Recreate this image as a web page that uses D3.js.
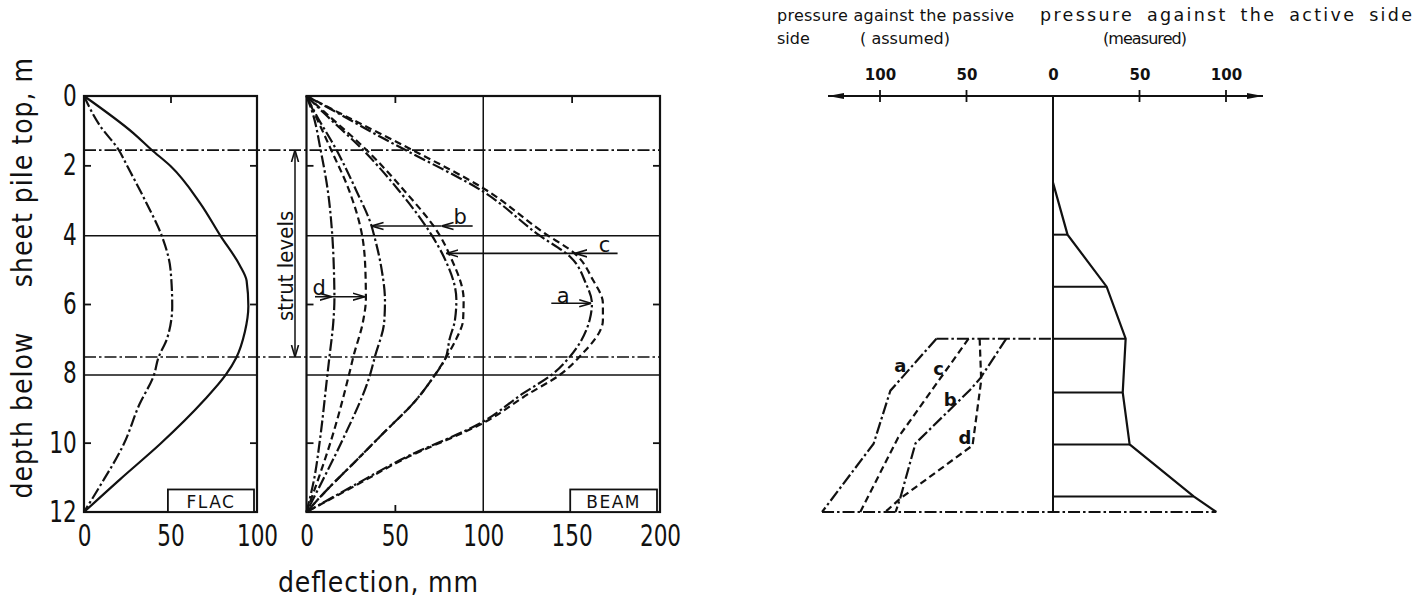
<!DOCTYPE html>
<html>
<head>
<meta charset="utf-8">
<script src="https://cdn.jsdelivr.net/npm/d3@7"></script>
<style>
  body { margin: 0; background: #fff; }
  svg { display: block; }
</style>
</head>
<body>
<div id="chart"></div>
<script>
// ---- data: [depth m, deflection mm] ----
const flacSolid = [[0,0],[1.07,28.5],[1.55,39],[2.02,50],[3.08,67],[4.04,79],[4.88,90],[5.33,94],[6.06,95],[6.8,93],[7.55,88],[8.04,82],[8.8,69],[10.04,44],[11.05,21],[12,0]]
const flacDashDot = [[0,0],[0.84,9],[1.55,20],[2.02,25],[3.08,36],[4.04,45],[5,50],[6.06,51],[7,48],[7.55,43],[8.04,40.5],[8.9,32],[10.04,23],[11.27,9],[12,0]]

const beamD1 = [[0,0],[0.5,3.5],[1.56,8],[2.71,12],[4.03,14.6],[5,15.5],[5.85,15.8],[6.5,15.2],[7.52,13],[8.05,11.8],[9.92,7.6],[11,4.5],[12,0]]
const beamD2 = [[0,0],[0.5,4.5],[1.56,14],[2.71,24],[4.03,31.5],[5,33.3],[5.85,33.6],[6.5,32],[7.52,26.5],[8.05,24],[9.92,14],[11,7],[12,0]]
const beamB1 = [[0,0],[0.5,5],[1.56,17],[2.71,28],[3.75,36.8],[4.03,38.3],[5,42.5],[5.9,44.4],[6.5,44],[7.52,38.7],[8.05,35.9],[9.92,20.4],[11,10],[12,0]]
const beamC1 = [[0,0],[0.5,10],[1.56,32],[2.71,52],[4.03,71],[4.63,77.6],[5.88,84.8],[6.46,84],[7,81],[7.57,78.6],[8.05,72.6],[8.77,62],[9.73,43.4],[10.6,26.5],[11.27,13.3],[12,0]]
const beamC2 = [[0,0],[0.5,11],[1.56,34],[2.71,55],[4.03,75.5],[4.63,81.4],[5.88,88.9],[6.46,88.6],[7,84.8],[7.57,78.6],[8.05,72.6],[8.77,62],[9.73,43.4],[10.6,26.5],[11.27,13.3],[12,0]]
const beamA1 = [[0,0],[0.5,18],[1.17,41.5],[1.56,56],[2.76,100],[4.03,132],[4.63,149],[5.4,158],[5.98,161.5],[6.46,160.2],[7.52,149],[8.05,138.5],[8.58,122.5],[9.39,100],[10.5,53],[11.2,28],[12,0]]
const beamA2 = [[0,0],[0.5,19],[1.56,60],[2.66,100],[3.96,134.7],[4.54,151.7],[5.3,162],[5.98,167.7],[6.46,167.7],[7.52,154.5],[8.05,143.2],[8.58,126],[9.39,101.5],[10.5,54],[11.2,29],[12,0]]

const strutDepths = [1.56, 7.53]
const excavDepths = [4.03, 8.05]

// arrows in BEAM panel: depth, from mm, heads at mm
const beamArrows = [
  { label: "b", depth: 3.75, from: 94, heads: [76.4, 36.8], lx: 87, ld: 3.48 },
  { label: "c", depth: 4.54, from: 176, heads: [152, 79.2], lx: 168.6, ld: 4.3 },
  { label: "a", depth: 5.98, from: 138.5, heads: [161.1], lx: 145.2, ld: 5.78 },
  { label: "d", depth: 5.79, from: 4.8, heads: [14.2, 33], lx: 7.2, ld: 5.53 }
]

// ---- pressure diagram ----
const activeDepth = [2.5, 4, 5.5, 7, 8.55, 10.05, 11.55, 12]
const activePress = [0, 8.4, 31, 42, 40.3, 44.3, 81.3, 94.4]
const passiveA = { depth: [7, 8.5, 10.03, 12], press: [67.4, 94, 103.7, 133.5] }
const passiveB = { depth: [7, 8.14, 8.48, 10.02, 11.6, 12], press: [27, 42, 48, 79.5, 88.3, 91] }
const passiveC = { depth: [7, 9.85, 12], press: [48.8, 89.5, 111.4] }
const passiveD = { depth: [7, 8.2, 10.08, 11.6, 12], press: [42.4, 41.5, 46.5, 88, 97] }
const passiveLabels = [
  { t: "a", p: 88.2, d: 7.76 }, { t: "c", p: 66.1, d: 7.85 },
  { t: "b", p: 59.4, d: 8.75 }, { t: "d", p: 50.9, d: 9.86 }
]
const pressTicks = [-100, -50, 0, 50, 100]

const depthTicks = [0, 2, 4, 6, 8, 10, 12]
const flacTicks = [0, 50, 100]
const beamTicks = [0, 50, 100, 150, 200]

// ---- setup ----
const W = 1423, H = 607
const ink = "#111"
const DASHDOT = "12,3,2.5,3"
const DASH = "7,4"
const FONT = "'DejaVu Sans Condensed', 'DejaVu Sans', sans-serif"
const FONT2 = "'DejaVu Sans', sans-serif"

const svg = d3.select("#chart").append("svg")
  .attr("width", W).attr("height", H)
  .style("background", "#fff")

const defs = svg.append("defs")
defs.append("marker").attr("id", "head")
  .attr("viewBox", "0 0 12 10").attr("refX", 12).attr("refY", 5)
  .attr("markerWidth", 12).attr("markerHeight", 10)
  .attr("markerUnits", "userSpaceOnUse").attr("orient", "auto-start-reverse")
  .append("path").attr("d", "M0,1.5 L12,5 L0,8.5")
  .attr("fill", "none").attr("stroke", ink).attr("stroke-width", 1.6)
defs.append("marker").attr("id", "solidhead")
  .attr("viewBox", "0 0 16 10").attr("refX", 16).attr("refY", 5)
  .attr("markerWidth", 16).attr("markerHeight", 10)
  .attr("markerUnits", "userSpaceOnUse").attr("orient", "auto-start-reverse")
  .append("path").attr("d", "M0,2 L16,5 L0,8 Z").attr("fill", ink)

const y = d3.scaleLinear().domain([0, 12]).range([96, 512])
const xF = d3.scaleLinear().domain([0, 100]).range([84, 257])
const xB = d3.scaleLinear().domain([0, 200]).range([306.5, 660])
const xP = d3.scaleLinear().domain([-100, 100]).range([880, 1226])

// narrow tall digits like the original lettering
function narrow(sel) {
  sel.attr("font-family", FONT).attr("font-size", 30).attr("fill", ink)
    .attr("transform", "scale(0.8,1)")
}

// ---- panel frames, ticks, grid ----
function panel(x, xTickVals, innerX, boxLabel, boxFrom) {
  const g = svg.append("g")
  g.append("rect")
    .attr("x", x(0)).attr("y", y(0))
    .attr("width", x.range()[1] - x(0)).attr("height", y(12) - y(0))
    .attr("fill", "none").attr("stroke", ink).attr("stroke-width", 2.2)

  // inward ticks
  const inner = [
    [d3.axisTop(x), `translate(0,${y(12)})`, innerX],
    [d3.axisBottom(x), `translate(0,${y(0)})`, innerX],
    [d3.axisRight(y), `translate(${x(0)},0)`, [2, 6, 10]],
    [d3.axisLeft(y), `translate(${x.range()[1]},0)`, [2, 6, 10]]
  ]
  inner.forEach(([ax, tr, vals]) => {
    const a = g.append("g").attr("transform", tr)
      .call(ax.tickValues(vals).tickSize(7).tickFormat(""))
    a.select(".domain").remove()
    a.selectAll("line").attr("stroke", ink).attr("stroke-width", 1.8)
  })

  // tick labels
  const lab = g.append("g").attr("transform", `translate(0,${y(12)})`)
    .call(d3.axisBottom(x).tickValues(xTickVals).tickSize(0).tickPadding(13))
  lab.select(".domain").remove()
  lab.selectAll("text").call(narrow)

  // excavation levels
  g.selectAll(".exc").data(excavDepths).enter().append("line")
    .attr("x1", x(0)).attr("x2", x.range()[1])
    .attr("y1", (d) => y(d)).attr("y2", (d) => y(d))
    .attr("stroke", ink).attr("stroke-width", 1.6)

  // label box
  const bx0 = x(boxFrom), bx1 = x.range()[1] - 3
  g.append("rect")
    .attr("x", bx0).attr("y", y(11.35))
    .attr("width", bx1 - bx0).attr("height", y(12) - y(11.35))
    .attr("fill", "#fff").attr("stroke", ink).attr("stroke-width", 1.8)
  g.append("text")
    .attr("x", (bx0 + bx1) / 2).attr("y", (y(11.35) + y(12)) / 2 + 1)
    .attr("text-anchor", "middle").attr("dominant-baseline", "central")
    .attr("font-family", FONT2).attr("font-size", 17).attr("letter-spacing", 1.5)
    .attr("fill", ink).text(boxLabel)
  return g
}

panel(xF, flacTicks, [50], "FLAC", 48.5)
const beamG = panel(xB, beamTicks, [50, 150], "BEAM", 149.2)
beamG.append("line")
  .attr("x1", xB(100)).attr("x2", xB(100)).attr("y1", y(0)).attr("y2", y(12))
  .attr("stroke", ink).attr("stroke-width", 1.5)

// strut levels (dash-dot across both panels)
svg.selectAll(".strut").data(strutDepths).enter().append("line")
  .attr("x1", xF(0)).attr("x2", xB(200))
  .attr("y1", (d) => y(d)).attr("y2", (d) => y(d))
  .attr("stroke", ink).attr("stroke-width", 1.6).attr("stroke-dasharray", DASHDOT)

const strutX = 295
svg.append("line")
  .attr("x1", strutX).attr("x2", strutX)
  .attr("y1", y(strutDepths[0])).attr("y2", y(strutDepths[1]))
  .attr("stroke", ink).attr("stroke-width", 1.5)
  .attr("marker-start", "url(#head)").attr("marker-end", "url(#head)")
svg.append("text")
  .attr("transform", `translate(${strutX - 10},${y(4.9)}) rotate(-90)`)
  .attr("text-anchor", "middle").attr("dominant-baseline", "central")
  .attr("font-family", FONT).attr("font-size", 22).attr("fill", ink)
  .text("strut levels")

// y labels
const yl = svg.append("g").attr("transform", `translate(${xF(0)},0)`)
  .call(d3.axisLeft(y).tickValues(depthTicks).tickSize(0).tickPadding(9))
yl.select(".domain").remove()
yl.selectAll("text").call(narrow)

svg.append("text")
  .attr("transform", `translate(22,415) rotate(-90)`)
  .attr("text-anchor", "middle").attr("dominant-baseline", "central")
  .attr("font-family", FONT).attr("font-size", 28).attr("letter-spacing", 1).attr("fill", ink)
  .text("depth below")
svg.append("text")
  .attr("transform", `translate(22,${y(0) + 76}) rotate(-90)`)
  .attr("text-anchor", "middle").attr("dominant-baseline", "central")
  .attr("font-family", FONT).attr("font-size", 28).attr("letter-spacing", 1).attr("fill", ink)
  .text("sheet pile top, m")

svg.append("text")
  .attr("x", 378).attr("y", 592)
  .attr("text-anchor", "middle")
  .attr("font-family", FONT).attr("font-size", 28).attr("fill", ink)
  .attr("textLength", 200).attr("lengthAdjust", "spacing")
  .text("deflection, mm")

// ---- curves ----
const lineF = d3.line().x((d) => xF(d[1])).y((d) => y(d[0])).curve(d3.curveMonotoneY)
const lineB = d3.line().x((d) => xB(d[1])).y((d) => y(d[0])).curve(d3.curveMonotoneY)

const curves = [
  [lineF, flacSolid, null],
  [lineF, flacDashDot, DASHDOT],
  [lineB, beamD1, DASHDOT],
  [lineB, beamD2, DASH],
  [lineB, beamB1, DASHDOT],
  [lineB, beamC1, DASHDOT],
  [lineB, beamC2, DASH],
  [lineB, beamA1, DASHDOT],
  [lineB, beamA2, DASH]
]
curves.forEach(([gen, data, dash]) => {
  svg.append("path").attr("d", gen(data))
    .attr("fill", "none").attr("stroke", ink).attr("stroke-width", 2.2)
    .attr("stroke-dasharray", dash)
})

// arrows + letters in BEAM panel
beamArrows.forEach((a) => {
  let start = a.from
  a.heads.forEach((h) => {
    svg.append("line")
      .attr("x1", xB(start)).attr("x2", xB(h))
      .attr("y1", y(a.depth)).attr("y2", y(a.depth))
      .attr("stroke", ink).attr("stroke-width", 1.6)
      .attr("marker-end", "url(#head)")
    start = h
  })
  svg.append("text")
    .attr("x", xB(a.lx)).attr("y", y(a.ld))
    .attr("text-anchor", "middle").attr("dominant-baseline", "central")
    .attr("font-family", FONT2).attr("font-size", 21).attr("fill", ink)
    .text(a.label)
})

// ---- pressure diagram ----
const pg = svg.append("g")
pg.append("line")
  .attr("x1", 828).attr("x2", 1263).attr("y1", y(0)).attr("y2", y(0))
  .attr("stroke", ink).attr("stroke-width", 2.2)
  .attr("marker-start", "url(#solidhead)").attr("marker-end", "url(#solidhead)")

pg.selectAll(".pt").data(pressTicks.filter((d) => d !== 0)).enter().append("line")
  .attr("x1", (d) => xP(d)).attr("x2", (d) => xP(d))
  .attr("y1", y(0) - 6).attr("y2", y(0) + 6)
  .attr("stroke", ink).attr("stroke-width", 1.8)

const pl = pg.append("g").attr("transform", `translate(0,${y(0) - 16})`)
  .call(d3.axisTop(xP).tickValues(pressTicks).tickSize(0).tickPadding(0).tickFormat((d) => Math.abs(d)))
pl.select(".domain").remove()
pl.selectAll("text").attr("font-family", FONT2).attr("font-weight", "bold")
  .attr("font-size", 15).attr("fill", ink)

pg.append("line")
  .attr("x1", xP(0)).attr("x2", xP(0)).attr("y1", y(0)).attr("y2", y(12))
  .attr("stroke", ink).attr("stroke-width", 2)

// active side profile
const activePts = activeDepth.map((d, i) => [activePress[i], d])
const lineP = d3.line().x((d) => xP(d[0])).y((d) => y(d[1]))
pg.append("path").attr("d", lineP(activePts))
  .attr("fill", "none").attr("stroke", ink).attr("stroke-width", 2.2)
pg.selectAll(".al").data(activePts.slice(1, -1)).enter().append("line")
  .attr("x1", xP(0)).attr("x2", (d) => xP(d[0]))
  .attr("y1", (d) => y(d[1])).attr("y2", (d) => y(d[1]))
  .attr("stroke", ink).attr("stroke-width", 2)

// passive side
const passive = [[passiveA, DASHDOT], [passiveC, DASH], [passiveB, DASHDOT], [passiveD, DASH]]
passive.forEach(([s, dash]) => {
  const pts = s.depth.map((d, i) => [-s.press[i], d])
  pg.append("path").attr("d", lineP(pts))
    .attr("fill", "none").attr("stroke", ink).attr("stroke-width", 2.2)
    .attr("stroke-dasharray", dash)
})
pg.append("line")
  .attr("x1", xP(-passiveA.press[0])).attr("x2", xP(0))
  .attr("y1", y(7)).attr("y2", y(7))
  .attr("stroke", ink).attr("stroke-width", 2).attr("stroke-dasharray", DASHDOT)
pg.append("line")
  .attr("x1", xP(-passiveA.press[passiveA.press.length - 1]))
  .attr("x2", xP(activePress[activePress.length - 1]))
  .attr("y1", y(12)).attr("y2", y(12))
  .attr("stroke", ink).attr("stroke-width", 2).attr("stroke-dasharray", DASHDOT)

pg.selectAll(".plab").data(passiveLabels).enter().append("text")
  .attr("x", (d) => xP(-d.p)).attr("y", (d) => y(d.d))
  .attr("text-anchor", "middle").attr("dominant-baseline", "central")
  .attr("font-family", FONT2).attr("font-weight", "bold").attr("font-size", 18).attr("fill", ink)
  .text((d) => d.t)

// titles
const titles = [
  { t: "pressure against the passive", x: 777, y: 15, len: 237, fs: 16 },
  { t: "side", x: 777, y: 38, fs: 16 },
  { t: "( assumed)", x: 860, y: 38, len: 90, fs: 16 },
  { t: "pressure against the active side", x: 1040, y: 15, len: 372, fs: 17.5 },
  { t: "(measured)", x: 1103, y: 38, len: 84, fs: 16 }
]
pg.selectAll(".tt").data(titles).enter().append("text")
  .attr("x", (d) => d.x).attr("y", (d) => d.y)
  .attr("dominant-baseline", "central")
  .attr("font-family", FONT2).attr("font-size", (d) => d.fs).attr("fill", ink)
  .attr("word-spacing", (d) => (d.fs > 16 ? 5 : 0))
  .attr("textLength", (d) => d.len || null).attr("lengthAdjust", "spacing")
  .attr("xml:space", "preserve").style("white-space", "pre")
  .text((d) => d.t)
</script>
</body>
</html>
